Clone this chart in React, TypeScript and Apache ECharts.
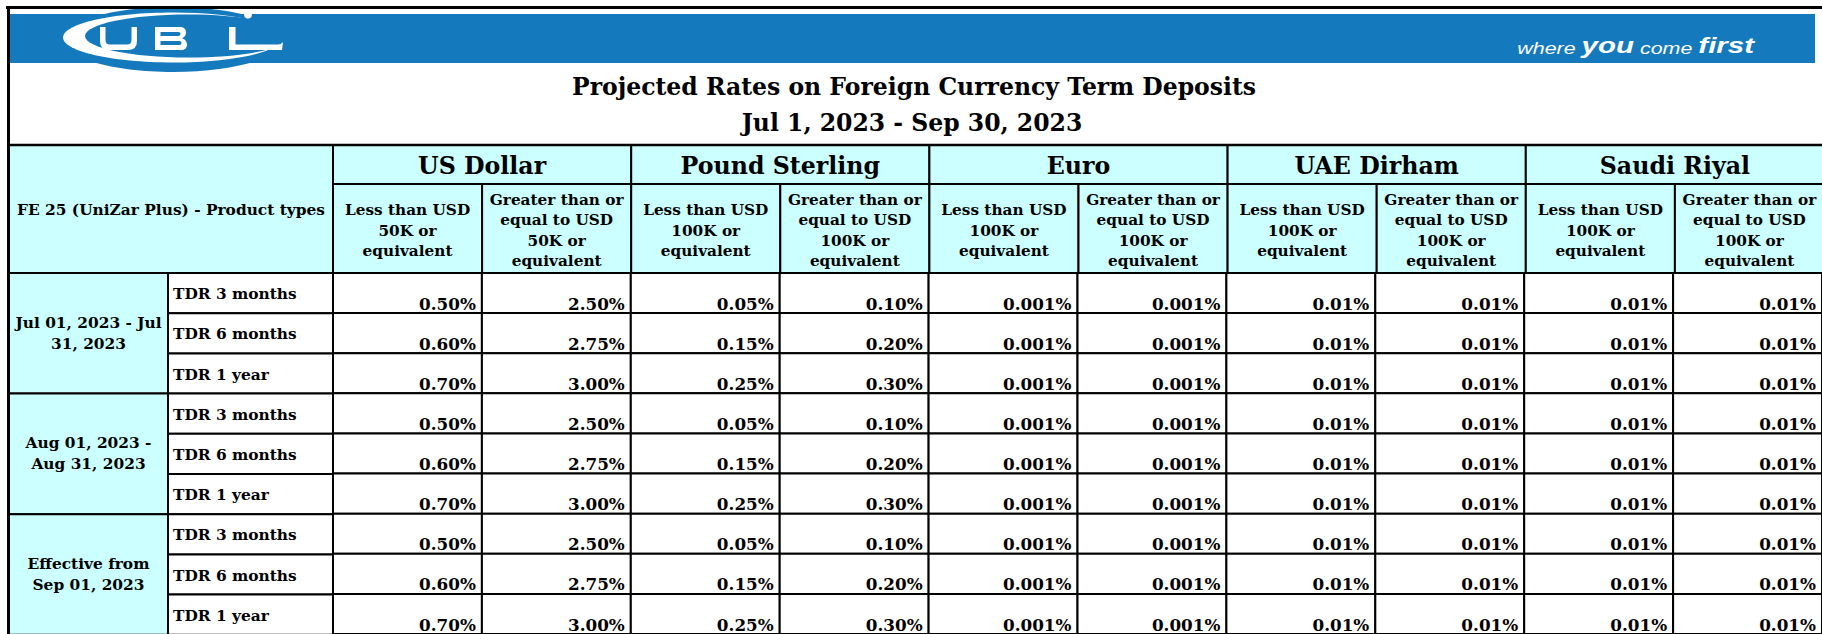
import React, { useEffect, useRef } from "react";
import * as echarts from "echarts";

// ---------- data ----------
const titleLines = ["Projected Rates on Foreign Currency Term Deposits", "Jul 1, 2023 - Sep 30, 2023"];
const cornerLabel = "FE 25 (UniZar Plus) - Product types";
const currencies = ["US Dollar", "Pound Sterling", "Euro", "UAE Dirham", "Saudi Riyal"];
const tierLabels = [
  "Less than USD\n50K or\nequivalent",
  "Greater than or\nequal to USD\n50K or\nequivalent",
  "Less than USD\n100K or\nequivalent",
  "Greater than or\nequal to USD\n100K or\nequivalent",
  "Less than USD\n100K or\nequivalent",
  "Greater than or\nequal to USD\n100K or\nequivalent",
  "Less than USD\n100K or\nequivalent",
  "Greater than or\nequal to USD\n100K or\nequivalent",
  "Less than USD\n100K or\nequivalent",
  "Greater than or\nequal to USD\n100K or\nequivalent",
];
const periods = ["Jul 01, 2023 - Jul\n31, 2023", "Aug 01, 2023 -\nAug 31, 2023", "Effective from\nSep 01, 2023"];
const products = ["TDR 3 months", "TDR 6 months", "TDR 1 year"];
const decimals = [2, 2, 3, 2, 2];
const usdLess = [0.5, 0.6, 0.7, 0.5, 0.6, 0.7, 0.5, 0.6, 0.7];
const usdMore = [2.5, 2.75, 3.0, 2.5, 2.75, 3.0, 2.5, 2.75, 3.0];
const gbpLess = [0.05, 0.15, 0.25, 0.05, 0.15, 0.25, 0.05, 0.15, 0.25];
const gbpMore = [0.1, 0.2, 0.3, 0.1, 0.2, 0.3, 0.1, 0.2, 0.3];
const eurLess = [0.001, 0.001, 0.001, 0.001, 0.001, 0.001, 0.001, 0.001, 0.001];
const eurMore = [0.001, 0.001, 0.001, 0.001, 0.001, 0.001, 0.001, 0.001, 0.001];
const aedLess = [0.01, 0.01, 0.01, 0.01, 0.01, 0.01, 0.01, 0.01, 0.01];
const aedMore = [0.01, 0.01, 0.01, 0.01, 0.01, 0.01, 0.01, 0.01, 0.01];
const sarLess = [0.01, 0.01, 0.01, 0.01, 0.01, 0.01, 0.01, 0.01, 0.01];
const sarMore = [0.01, 0.01, 0.01, 0.01, 0.01, 0.01, 0.01, 0.01, 0.01];
const tagline = ["where ", "you", " come ", "first"];

// ---------- layout ----------
const X0 = 9;
const XD = 168;
const XP = 333;
const COLW = 149.1;
const Y_TOP = 145;
const Y_CUR = 184;
const Y_HEAD = 273;
const ROWH = 40.2;
const CYAN = "#ccffff";
const BLUE = "#1479bd";
const SERIF = '"DejaVu Serif"';
const LABEL_FONT = `bold 15.4px ${SERIF}`;

// logo letter outlines
const LOGO_U =
  "M100 27 L105.5 27 L105.5 40 Q105.5 44.5 110 44.5 L127 44.5 Q131.5 44.5 131.5 40 L131.5 27 L137 27 L137 41 Q137 50 128 50 L109 50 Q100 50 100 41 Z";
const LOGO_B =
  "M155 27 L180 27 Q186 27 186 32.5 Q186 36.5 182 38.3 Q187 40 187 44.5 Q187 50 181 50 L155 50 Z " +
  "M160.5 32 L160.5 36 L178.5 36 Q180.5 36 180.5 34 Q180.5 32 178.5 32 Z " +
  "M160.5 41 L160.5 45 L179.5 45 Q181.5 45 181.5 43 Q181.5 41 179.5 41 Z";
const LOGO_L = "M229 27 L235.5 27 L235.5 44.5 L278 44.5 Q281 44.5 283 42 L282 50 L229 50 Z";

let registered = false;
function registerLogo() {
  if (registered) return;
  registered = true;
  echarts.graphic.registerShape("ublU", echarts.graphic.extendPath(LOGO_U, {}));
  echarts.graphic.registerShape("ublB", echarts.graphic.extendPath(LOGO_B, {}));
  echarts.graphic.registerShape("ublL", echarts.graphic.extendPath(LOGO_L, {}));
}

export default function App() {
  const ref = useRef<HTMLDivElement>(null);
  useEffect(() => {
    if (!ref.current) return;
    registerLogo();
    const chart = echarts.init(ref.current, undefined, { renderer: "svg" });
    const columns = [usdLess, usdMore, gbpLess, gbpMore, eurLess, eurMore, aedLess, aedMore, sarLess, sarMore];
    const data: number[][] = [];
    columns.forEach((col, c) => {
      col.forEach((v, r) => data.push([c, r, v, decimals[Math.floor(c / 2)]]));
    });
    const rowCats = periods.flatMap((p) => products.map((pr) => p + " " + pr));

    const g: any[] = [];
    // blue band
    g.push({ type: "rect", shape: { x: 9, y: 14, width: 1806, height: 49 }, style: { fill: BLUE } });
    // logo
    g.push({ type: "ellipse", shape: { cx: 173, cy: 39.5, rx: 111, ry: 32.5 }, style: { fill: BLUE } });
    g.push({ type: "ellipse", shape: { cx: 173, cy: 37.5, rx: 110, ry: 25 }, style: { fill: "#ffffff" } });
    g.push({ type: "ellipse", shape: { cx: 188, cy: 36, rx: 103, ry: 21.5 }, style: { fill: BLUE } });
    g.push({ type: "ublU", x: 0, y: 0, scaleX: 1, scaleY: 1, style: { fill: "#fff" } });
    g.push({ type: "ublB", x: 0, y: 0, scaleX: 1, scaleY: 1, style: { fill: "#fff" } });
    g.push({ type: "ublL", x: 0, y: 0, scaleX: 1, scaleY: 1, style: { fill: "#fff" } });
    g.push({ type: "circle", shape: { cx: 248, cy: 14.5, r: 4 }, style: { fill: "#fff" } });
    // tagline
    g.push({
      type: "text", x: 1754, y: 56, scaleX: 1.34,
      style: {
        text: `{a|${tagline[0]}}{b|${tagline[1]}}{a|${tagline[2]}}{b|${tagline[3]}}`,
        x: 0, y: 0, align: "right", verticalAlign: "bottom",
        rich: {
          a: { font: 'italic 16px "Liberation Sans"', fill: "#fff", verticalAlign: "bottom" },
          b: { font: 'italic bold 22px "Liberation Sans"', fill: "#fff", verticalAlign: "bottom" },
        },
      },
    });
    // title
    g.push({ type: "text", style: { text: titleLines[0], x: 914, y: 87, align: "center", verticalAlign: "middle", font: `bold 23.5px ${SERIF}`, fill: "#000" } });
    g.push({ type: "text", style: { text: titleLines[1], x: 912, y: 123, align: "center", verticalAlign: "middle", font: `bold 23.5px ${SERIF}`, fill: "#000" } });

    // header cells
    g.push({ type: "rect", shape: { x: X0, y: Y_TOP, width: XP - X0, height: Y_HEAD - Y_TOP }, style: { fill: CYAN, stroke: "#000", lineWidth: 2 } });
    g.push({ type: "text", style: { text: cornerLabel, x: (X0 + XP) / 2, y: (Y_TOP + Y_HEAD) / 2 + 1, align: "center", verticalAlign: "middle", font: LABEL_FONT, fill: "#000" } });
    currencies.forEach((cur, i) => {
      const x = XP + 2 * i * COLW;
      g.push({ type: "rect", shape: { x, y: Y_TOP, width: 2 * COLW, height: Y_CUR - Y_TOP }, style: { fill: CYAN, stroke: "#000", lineWidth: 2 } });
      g.push({ type: "text", style: { text: cur, x: x + COLW, y: (Y_TOP + Y_CUR) / 2 + 1, align: "center", verticalAlign: "middle", font: `bold 23.7px ${SERIF}`, fill: "#000" } });
    });
    tierLabels.forEach((t, i) => {
      const x = XP + i * COLW;
      g.push({ type: "rect", shape: { x, y: Y_CUR, width: COLW, height: Y_HEAD - Y_CUR }, style: { fill: CYAN, stroke: "#000", lineWidth: 2 } });
      g.push({ type: "text", style: { text: t, x: x + COLW / 2, y: 230.5, align: "center", verticalAlign: "middle", lineHeight: 20.5, font: `bold 15.3px ${SERIF}`, fill: "#000" } });
    });
    // row labels
    periods.forEach((p, i) => {
      const y = Y_HEAD + 3 * i * ROWH;
      g.push({ type: "rect", shape: { x: X0, y, width: XD - X0, height: 3 * ROWH }, style: { fill: CYAN, stroke: "#000", lineWidth: 2 } });
      g.push({ type: "text", style: { text: p, x: (X0 + XD) / 2, y: y + 1.5 * ROWH, align: "center", verticalAlign: "middle", lineHeight: 21, font: LABEL_FONT, fill: "#000" } });
      products.forEach((pr, j) => {
        const yy = y + j * ROWH;
        g.push({ type: "rect", shape: { x: XD, y: yy, width: XP - XD, height: ROWH }, style: { fill: "#fff", stroke: "#000", lineWidth: 2 } });
        g.push({ type: "text", style: { text: pr, x: XD + 5, y: yy + ROWH / 2 + 1, align: "left", verticalAlign: "middle", font: LABEL_FONT, fill: "#000" } });
      });
    });
    // outer frame
    g.push({ type: "line", z: 10, shape: { x1: 6, y1: 7.5, x2: 1822, y2: 7.5 }, style: { stroke: "#000", lineWidth: 3 } });
    g.push({ type: "line", z: 10, shape: { x1: 8.5, y1: 6, x2: 8.5, y2: 634 }, style: { stroke: "#000", lineWidth: 3 } });
    g.push({ type: "line", z: 10, shape: { x1: 7, y1: Y_TOP, x2: 1822, y2: Y_TOP }, style: { stroke: "#000", lineWidth: 2.5 } });

    chart.setOption({
      animation: false,
      backgroundColor: "#ffffff",
      graphic: { elements: g },
      grid: { left: XP, top: Y_HEAD, width: 10 * COLW, height: 9 * ROWH, containLabel: false },
      xAxis: { type: "category", data: columns.map((_, i) => "c" + i), show: false },
      yAxis: { type: "category", data: rowCats, inverse: true, show: false },
      series: [
        {
          type: "custom",
          clip: false,
          data,
          renderItem: (params: any, api: any) => {
            const c = api.coord([api.value(0), api.value(1)]);
            const s = api.size([1, 1]);
            const v = api.value(2) as number;
            const d = api.value(3) as number;
            const x = c[0] - s[0] / 2;
            const y = c[1] - s[1] / 2;
            return {
              type: "group",
              children: [
                { type: "rect", shape: { x, y, width: s[0], height: s[1] }, style: { fill: "#fff", stroke: "#000", lineWidth: 2 } },
                {
                  type: "text",
                  style: {
                    text: v.toFixed(d) + "%",
                    x: x + s[0] - 6,
                    y: y + s[1] - 9.5,
                    align: "right",
                    verticalAlign: "middle",
                    font: `bold 16.8px ${SERIF}`,
                    fill: "#000",
                  },
                },
              ],
            };
          },
        },
      ],
    });
    return () => chart.dispose();
  }, []);
  return <div ref={ref} style={{ position: "fixed", left: 0, top: 0, width: 1822, height: 634 }} />;
}
